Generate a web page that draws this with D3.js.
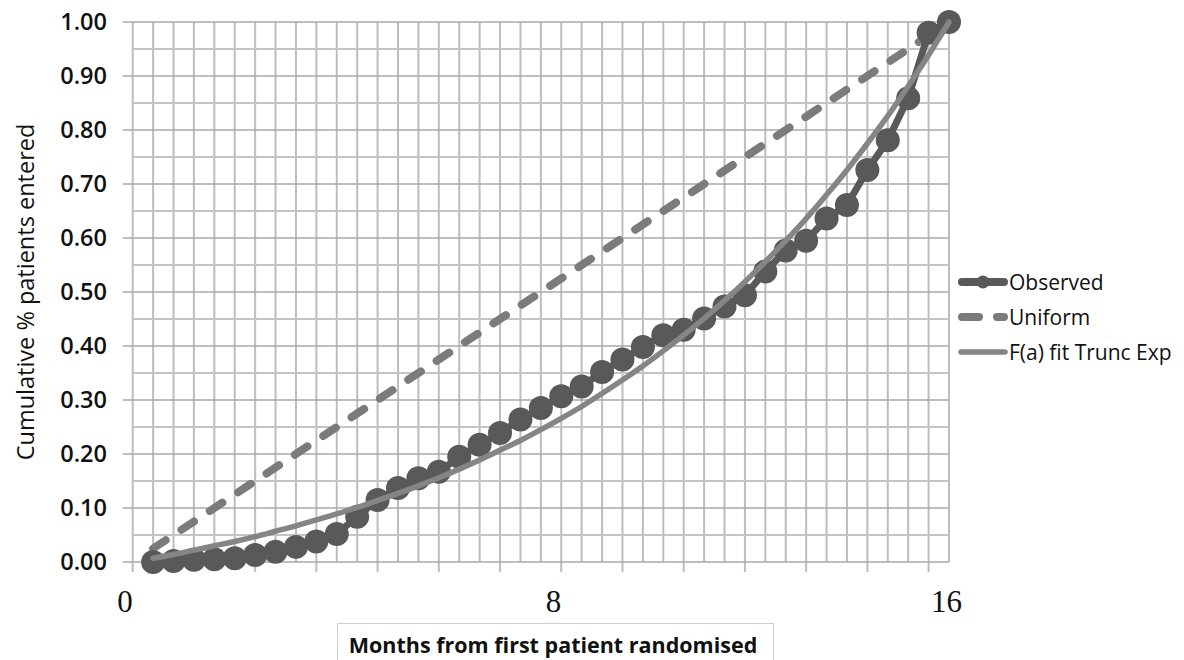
<!DOCTYPE html>
<html>
<head>
<meta charset="utf-8">
<script src="https://cdn.jsdelivr.net/npm/d3@7"></script>
<style>
  body { margin: 0; background: #fff; }
  svg { display: block; }
  text { font-family: "Open Sans", "Noto Sans", sans-serif; }
</style>
</head>
<body>
<svg id="chart" width="1184" height="660"></svg>
<script>
// months at which each point was recorded
const months = [0.4, 0.8, 1.2, 1.6, 2.0, 2.4, 2.8, 3.2, 3.6, 4.0,
	4.4, 4.8, 5.2, 5.6, 6.0, 6.4, 6.8, 7.2, 7.6, 8.0,
	8.4, 8.8, 9.2, 9.6, 10.0, 10.4, 10.8, 11.2, 11.6, 12.0,
	12.4, 12.8, 13.2, 13.6, 14.0, 14.4, 14.8, 15.2, 15.6, 16.0];

// cumulative proportion observed
const observed = [0.000, 0.002, 0.004, 0.005, 0.007, 0.013, 0.019, 0.028, 0.038, 0.052,
	0.084, 0.115, 0.137, 0.155, 0.167, 0.195, 0.217, 0.239, 0.264, 0.285,
	0.307, 0.325, 0.352, 0.375, 0.398, 0.420, 0.430, 0.451, 0.473, 0.494,
	0.538, 0.577, 0.595, 0.636, 0.661, 0.726, 0.781, 0.859, 0.980, 1.000];

// F(a) fit, truncated exponential
const fitted = [0.007, 0.014, 0.022, 0.030, 0.038, 0.047, 0.057, 0.067, 0.078, 0.089,
	0.101, 0.114, 0.127, 0.141, 0.156, 0.172, 0.189, 0.207, 0.225, 0.245,
	0.266, 0.288, 0.312, 0.337, 0.363, 0.391, 0.420, 0.451, 0.484, 0.519,
	0.556, 0.595, 0.636, 0.680, 0.726, 0.775, 0.826, 0.881, 0.939, 1.000];

// uniform recruitment, straight line
const uniformMonths = [0.4, 16];
const uniformValues = [0.025, 1.0];

const yTicks = [0, 0.1, 0.2, 0.3, 0.4, 0.5, 0.6, 0.7, 0.8, 0.9, 1.0];
const xLabels = ["0", "8", "16"];
const xLabelAt = [-0.15, 8.25, 15.95];

const seriesNames = ["Observed", "Uniform", "F(a) fit Trunc Exp"];

const svg = d3.select("#chart");

const plot = { left: 132.7, right: 949, top: 22, bottom: 562 };

const x = d3.scaleLinear().domain([0, 16]).range([plot.left, plot.right]);
const y = d3.scaleLinear().domain([0, 1]).range([plot.bottom, plot.top]);

// grid
const grid = svg.append("g");
const vLines = d3.range(0, 41).map(i => i * 0.4);
grid.selectAll("line.v")
	.data(vLines)
	.enter().append("line")
	.attr("class", "v")
	.attr("x1", d => x(d)).attr("x2", d => x(d))
	.attr("y1", plot.top).attr("y2", (d, i) => i % 3 === 0 ? plot.bottom + 10 : plot.bottom)
	.attr("stroke", "#bdbdbd")
	.attr("stroke-width", 2);

const hLines = d3.range(0, 21).map(i => i * 0.05);
grid.selectAll("line.h")
	.data(hLines)
	.enter().append("line")
	.attr("class", "h")
	.attr("x1", (d, i) => i % 2 === 0 ? plot.left - 10 : plot.left)
	.attr("x2", plot.right)
	.attr("y1", d => y(d)).attr("y2", d => y(d))
	.attr("stroke", (d, i) => i % 2 === 0 ? "#a8a8a8" : "#c4c4c4")
	.attr("stroke-width", (d, i) => i % 2 === 0 ? 1.6 : 2);

// y tick labels
svg.append("g").selectAll("text")
	.data(yTicks)
	.enter().append("text")
	.attr("x", 107)
	.attr("y", d => y(d))
	.attr("dy", "0.36em")
	.attr("text-anchor", "end")
	.attr("font-size", 23.5)
	.attr("font-weight", 600)
	.attr("fill", "#111")
	.text(d => d3.format(".2f")(d));

// x labels (serif, as in the original)
svg.append("g").selectAll("text")
	.data(xLabels)
	.enter().append("text")
	.attr("x", (d, i) => x(xLabelAt[i]))
	.attr("y", 612)
	.attr("text-anchor", "middle")
	.attr("font-size", 31)
	.style("font-family", "'Liberation Serif', 'DejaVu Serif', serif")
	.attr("fill", "#111")
	.text(d => d);

// uniform dashed
const uniformData = uniformMonths.map((m, i) => [m, uniformValues[i]]);
svg.append("path")
	.datum(uniformData)
	.attr("d", d3.line().x(d => x(d[0])).y(d => y(d[1])))
	.attr("fill", "none")
	.attr("stroke", "#7b7b7b")
	.attr("stroke-width", 8)
	.attr("stroke-linecap", "round")
	.attr("stroke-dasharray", "15 19");

// observed line + markers
const obsData = months.map((m, i) => [m, observed[i]]);
svg.append("path")
	.datum(obsData)
	.attr("d", d3.line().x(d => x(d[0])).y(d => y(d[1])))
	.attr("fill", "none")
	.attr("stroke", "#595959")
	.attr("stroke-width", 7)
	.attr("stroke-linejoin", "round");

svg.append("g").selectAll("circle")
	.data(obsData)
	.enter().append("circle")
	.attr("cx", d => x(d[0]))
	.attr("cy", d => y(d[1]))
	.attr("r", 12)
	.attr("fill", "#595959");

// fitted curve
const fitData = months.map((m, i) => [m, fitted[i]]);
svg.append("path")
	.datum(fitData)
	.attr("d", d3.line().curve(d3.curveMonotoneX).x(d => x(d[0])).y(d => y(d[1])))
	.attr("fill", "none")
	.attr("stroke", "#858585")
	.attr("stroke-width", 5.5)
	.attr("stroke-linecap", "round");

// legend
const legend = svg.append("g");
const legY = [282, 317, 352];
legend.append("line")
	.attr("x1", 962).attr("x2", 1004).attr("y1", legY[0]).attr("y2", legY[0])
	.attr("stroke", "#595959").attr("stroke-width", 8).attr("stroke-linecap", "round");
legend.append("circle")
	.attr("cx", 983).attr("cy", legY[0]).attr("r", 6.5).attr("fill", "#595959");
legend.append("line")
	.attr("x1", 962).attr("x2", 1004).attr("y1", legY[1]).attr("y2", legY[1])
	.attr("stroke", "#7b7b7b").attr("stroke-width", 8).attr("stroke-linecap", "round")
	.attr("stroke-dasharray", "17 18");
legend.append("line")
	.attr("x1", 961).attr("x2", 1005).attr("y1", legY[2]).attr("y2", legY[2])
	.attr("stroke", "#858585").attr("stroke-width", 5.5).attr("stroke-linecap", "round");

legend.selectAll("text")
	.data(seriesNames)
	.enter().append("text")
	.attr("x", 1009)
	.attr("y", (d, i) => legY[i])
	.attr("dy", "0.36em")
	.attr("font-size", 21)
	.attr("fill", "#111")
	.text(d => d);

// axis titles
svg.append("text")
	.attr("transform", "translate(26,292) rotate(-90)")
	.attr("text-anchor", "middle")
	.attr("dy", "0.36em")
	.attr("font-size", 23.5)
	.attr("fill", "#111")
	.text("Cumulative % patients entered");

svg.append("rect")
	.attr("x", 337.5).attr("y", 623.5)
	.attr("width", 436).attr("height", 45)
	.attr("fill", "#fff")
	.attr("stroke", "#cfcfcf");

svg.append("text")
	.attr("x", 553)
	.attr("y", 645)
	.attr("dy", "0.36em")
	.attr("text-anchor", "middle")
	.attr("font-size", 21.5)
	.attr("font-weight", 700)
	.attr("fill", "#111")
	.text("Months from first patient randomised");
</script>
</body>
</html>
